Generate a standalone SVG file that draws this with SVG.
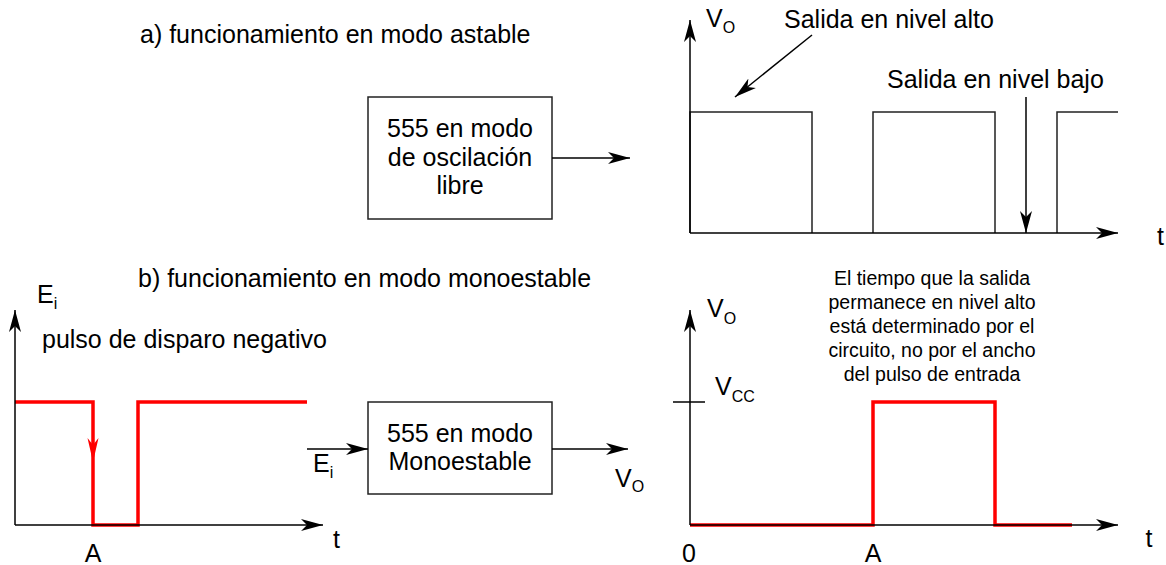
<svg xmlns="http://www.w3.org/2000/svg" width="1166" height="565" viewBox="0 0 1166 565">
<defs>
<marker id="ah" markerUnits="userSpaceOnUse" markerWidth="24" markerHeight="14" refX="22" refY="7" orient="auto"><path d="M0,1 L22,7 L0,13 L6,7 Z" fill="#000"/></marker>
</defs>
<style>
text{font-family:"Liberation Sans",Arial,sans-serif;fill:#000}
.t25{font-size:25px}
.t20{font-size:19.5px}
.sub{font-size:16px}
.mid{text-anchor:middle}
.ax{stroke:#000;stroke-width:1.5;fill:none}
.arr{stroke:#000;stroke-width:1.5;fill:none;marker-end:url(#ah)}
.wave{stroke:#222;stroke-width:1.5;fill:none}
.red{stroke:#f00;stroke-width:3.5;fill:none}
.box{fill:#fff;stroke:#222;stroke-width:1.5}
</style>
<rect width="1166" height="565" fill="#fff"/>

<text x="140" y="43" class="t25">a) funcionamiento en modo astable</text>
<text x="138" y="287" class="t25">b) funcionamiento en modo monoestable</text>

<g id="box-astable">
<rect class="box" x="368" y="97" width="184" height="122"/>
<text class="t25 mid" x="460" y="137">555 en modo</text>
<text class="t25 mid" x="460" y="166">de oscilación</text>
<text class="t25 mid" x="460" y="194">libre</text>
</g>

<g id="box-monoestable">
<rect class="box" x="368" y="402" width="184" height="92"/>
<text class="t25 mid" x="460" y="442">555 en modo</text>
<text class="t25 mid" x="460" y="470">Monoestable</text>
</g>

<g id="graph-astable">
<path class="wave" d="M690,233 V112 H812 V233 M873,233 V112 H995 V233 M1057,233 V112 H1118"/>
<text x="706" y="27" class="t25">V<tspan class="sub" dy="6">O</tspan></text>
<text x="784" y="28" class="t25">Salida en nivel alto</text>
<text x="887" y="88" class="t25">Salida en nivel bajo</text>
<text x="1157" y="245" class="t25">t</text>
</g>

<g id="graph-input">
<path class="red" d="M15,402 H93 V525 H138 V402 H307"/>
<polygon points="93,462 87.5,438 93,445 98.5,438" fill="#f00"/>
<text x="37" y="303" class="t25">E<tspan class="sub" dy="6">i</tspan></text>
<text x="42" y="348" class="t25">pulso de disparo negativo</text>
<text x="93" y="562" class="t25 mid">A</text>
<text x="333" y="548" class="t25">t</text>
</g>

<g id="graph-output">
<line class="ax" x1="673" y1="402" x2="705" y2="402"/>
<path class="red" d="M690,525 H873 V402 H995 V525 H1072"/>
<text x="707" y="317" class="t25">V<tspan class="sub" dy="7">O</tspan></text>
<text x="715" y="395" class="t25">V<tspan class="sub" dy="7">CC</tspan></text>
<text class="t20 mid" x="932" y="285">El tiempo que la salida</text>
<text class="t20 mid" x="932" y="309">permanece en nivel alto</text>
<text class="t20 mid" x="932" y="333">está determinado por el</text>
<text class="t20 mid" x="932" y="357">circuito, no por el ancho</text>
<text class="t20 mid" x="932" y="381">del pulso de entrada</text>
<text x="689" y="562" class="t25 mid">0</text>
<text x="873" y="562" class="t25 mid">A</text>
<text x="1149" y="547" class="t25 mid">t</text>
</g>

<g id="labels-mono">
<text x="313" y="472" class="t25">E<tspan class="sub" dy="6">i</tspan></text>
<text x="615" y="487" class="t25">V<tspan class="sub" dy="5">O</tspan></text>
</g>

<g id="connectors">
<path class="arr" d="M690,233 V20"/>
<path class="arr" d="M690,233 H1118"/>
<path class="arr" d="M552,158 H630"/>
<path class="arr" d="M812,35 L735,97"/>
<path class="arr" d="M1026,97 V233"/>
<path class="arr" d="M15,525 V310"/>
<path class="arr" d="M15,525 H323"/>
<path class="arr" d="M307,449 H368"/>
<path class="arr" d="M552,449 H628"/>
<path class="arr" d="M690,525 V310"/>
<path class="arr" d="M690,525 H1118"/>
</g>
</svg>
